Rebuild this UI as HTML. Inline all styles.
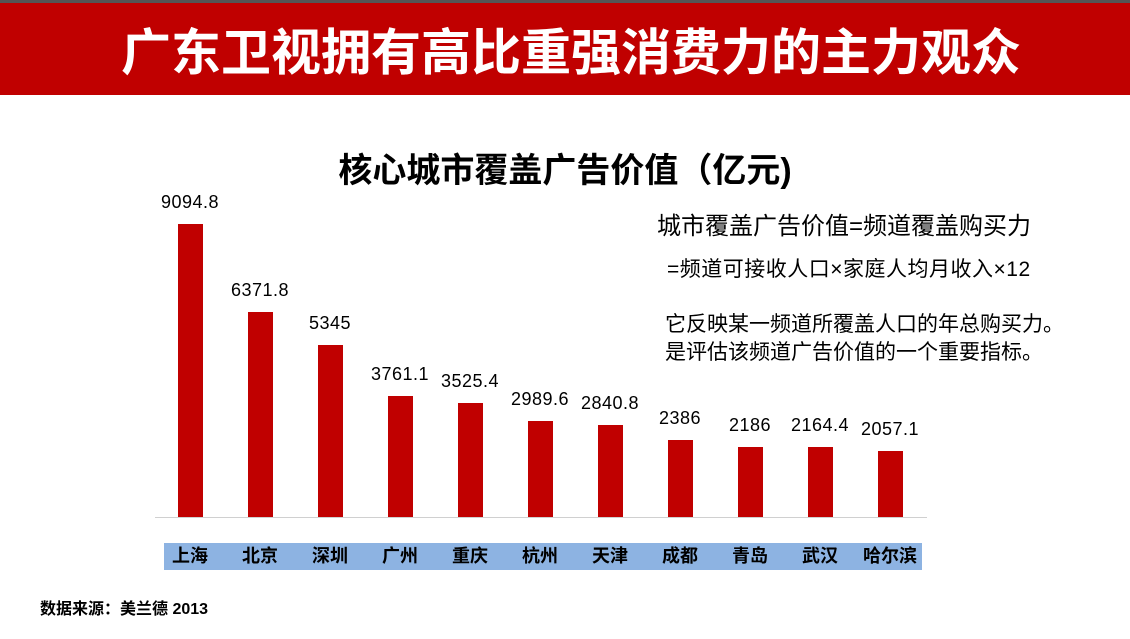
<!DOCTYPE html>
<html><head><meta charset="utf-8"><style>
body{margin:0;width:1130px;height:639px;background:#fff;position:relative;overflow:hidden;font-family:"Liberation Sans","Noto Sans CJK SC",sans-serif}
.a{position:absolute;white-space:nowrap}
.bar{position:absolute;width:25px;background:#c00000}
.v{position:absolute;width:100px;text-align:center;font-size:18px;color:#000;letter-spacing:0.5px}
.c{position:absolute;width:70px;text-align:center;font-size:18px;font-weight:bold;top:543px;line-height:27px}
</style></head><body>
<div class="a" style="left:0;top:0;width:1130px;height:3px;background:#555"></div>
<div class="a" style="left:0;top:3px;width:1130px;height:92px;background:#c00000"></div>
<div class="a" style="left:6px;top:14px;width:1130px;text-align:center;color:#fff;font-size:50px;font-weight:bold;line-height:70px;font-family:'Noto Sans CJK SC',sans-serif">广东卫视拥有高比重强消费力的主力观众</div>
<div class="a" style="left:0;top:148px;width:1130px;text-align:center;font-size:34px;font-weight:bold;line-height:46px">核心城市覆盖广告价值（亿元)</div>
<div class="a" style="left:657px;top:211px;font-size:24px;line-height:32px">城市覆盖广告价值=频道覆盖购买力</div>
<div class="a" style="left:667px;top:256px;font-size:21px;line-height:28px;letter-spacing:0.5px">=频道可接收人口×家庭人均月收入×12</div>
<div class="a" style="left:665px;top:311px;font-size:21px;line-height:28px">它反映某一频道所覆盖人口的年总购买力。<br>是评估该频道广告价值的一个重要指标。</div>
<div class="a" style="left:155px;top:517px;width:772px;height:1px;background:#d0d0d0"></div>
<div class="a" style="left:164px;top:543px;width:758px;height:27px;background:#8db3e2"></div>
<div id="ch"></div>
<div class="a" style="left:40px;top:595px;font-size:16px;font-weight:bold">数据来源：美兰德 2013</div>
<script>
var d=[["上海",9094.8],["北京",6371.8],["深圳",5345],["广州",3761.1],["重庆",3525.4],["杭州",2989.6],["天津",2840.8],["成都",2386],["青岛",2186],["武汉",2164.4],["哈尔滨",2057.1]];
var h="";
d.forEach(function(e,i){var cx=190+70*i;var ht=e[1]*293/9094.8;var t=517-ht;
h+='<div class="bar" style="left:'+(cx-12.5)+'px;top:'+t+'px;height:'+ht+'px"></div>';
h+='<div class="v" style="left:'+(cx-50)+'px;top:'+(t-32)+'px">'+e[1]+'</div>';
h+='<div class="c" style="left:'+(cx-35)+'px">'+e[0]+'</div>';});
document.getElementById("ch").innerHTML=h;
</script>
</body></html>
